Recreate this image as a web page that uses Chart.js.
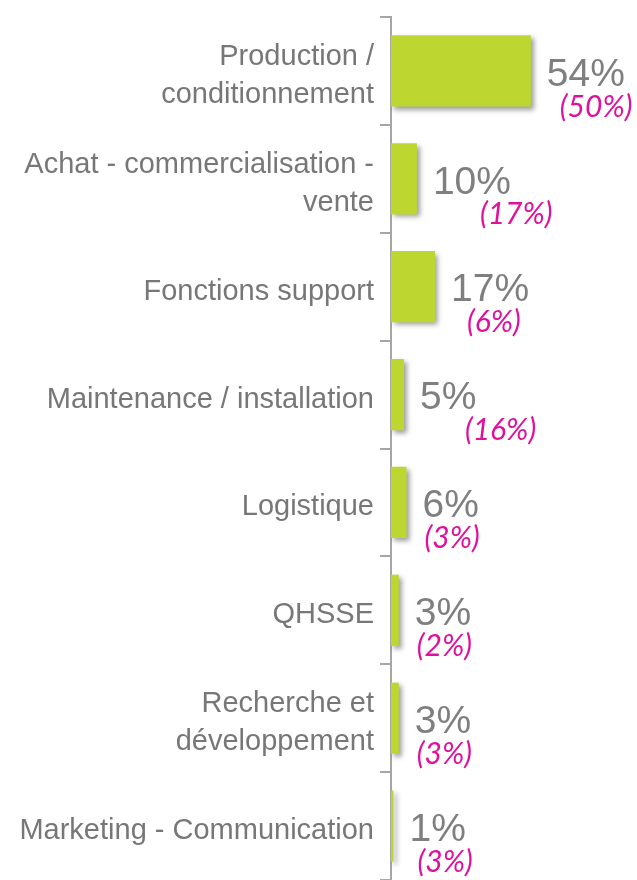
<!DOCTYPE html>
<html><head><meta charset="utf-8">
<script src="https://cdn.jsdelivr.net/npm/chart.js@4"></script>
<style>html,body{margin:0;padding:0;background:#fff}#wrap{width:637px;height:880px;position:relative}</style>
</head><body><div id="wrap"><canvas id="c" width="637" height="880"></canvas></div>
<script>
const categories = [["Production /","conditionnement"],["Achat - commercialisation -","vente"],"Fonctions support","Maintenance / installation","Logistique","QHSSE",["Recherche et","développement"],"Marketing - Communication"];
const shares = [54,10,17,5,6,3,3,1];
const previousShares = [50,17,6,16,3,2,3,3];
const shareLabels = ["54%","10%","17%","5%","6%","3%","3%","1%"];
const previousLabels = ["(50%)","(17%)","(6%)","(16%)","(3%)","(2%)","(3%)","(3%)"];

const barShadow = {
  id:'barShadow',
  beforeDatasetDraw(chart){ const ctx=chart.ctx; ctx.save(); ctx.shadowColor='rgba(0,0,0,0.38)'; ctx.shadowBlur=5; ctx.shadowOffsetX=3; ctx.shadowOffsetY=3; },
  afterDatasetDraw(chart){ chart.ctx.restore(); }
};
const valueLabels = {
  id:'valueLabels',
  afterDatasetsDraw(chart, args, opts){
    const ctx=chart.ctx; const meta=chart.getDatasetMeta(0);
    ctx.save();
    meta.data.forEach((bar,i)=>{
      ctx.textAlign='left'; ctx.textBaseline='middle';
      ctx.font='39px "Liberation Sans", Arial, sans-serif';
      ctx.fillStyle='#7f7f7f';
      ctx.fillText(shareLabels[i], bar.x+16, bar.y+4);
      ctx.font='italic 30px Lato, sans-serif';
      ctx.fillStyle='#e0109c';
      ctx.fillText(previousLabels[i], bar.x+opts.noteDx[i], bar.y+36);
    });
    ctx.restore();
  }
};

new Chart(document.getElementById('c'), {
  type:'bar',
  data:{ labels:categories, datasets:[{ data:shares, backgroundColor:'#bed730', barPercentage:0.66, categoryPercentage:1 }] },
  options:{
    indexAxis:'y', responsive:false, animation:false, devicePixelRatio:1,
    layout:{ padding:{ top:17, left:0, right:0, bottom:0 } },
    scales:{
      x:{ display:false, min:0, max:95 },
      y:{ position:'left',
          border:{ color:'#a6a6a6', width:2 },
          grid:{ drawOnChartArea:false, drawTicks:true, tickLength:11, color:'#a6a6a6', lineWidth:2, offset:true },
          ticks:{ color:'#777777', font:{ family:'"Liberation Sans", Arial, sans-serif', size:29, lineHeight:1.3 }, padding:6, autoSkip:false, labelOffset:5 },
          afterFit(scale){ scale.width = 391; scale.paddingTop = 0; scale.paddingBottom = 0; } }
    },
    plugins:{ legend:{display:false}, tooltip:{enabled:false}, valueLabels:{ noteDx:[29,63,32,61,18,18,18,24] } }
  },
  plugins:[barShadow, valueLabels]
});
</script></body></html>
